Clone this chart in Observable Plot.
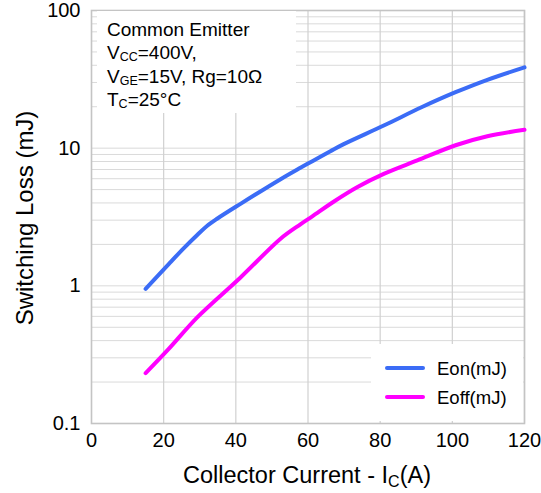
<!DOCTYPE html>
<html><head><meta charset="utf-8">
<script src="https://cdn.jsdelivr.net/npm/d3@7"></script>
<script src="https://cdn.jsdelivr.net/npm/@observablehq/plot@0.6"></script>
<style>
body{margin:0;background:#fff;}
svg{font-family:"Liberation Sans",Arial,sans-serif;}
</style>
</head><body><div id="chart"></div>
<script>
const seriesNames = ["Eon(mJ)", "Eoff(mJ)"];
const seriesColors = ["#3b6cf6", "#ff00ff"];
const eonCurrent = [15, 21.4, 25.6, 29.3, 32, 34.8, 41.3, 52.4, 57.9, 61.2, 66.2, 69.9, 81, 91.6, 100.9, 109.7, 120];
const eonLoss    = [0.95, 1.44, 1.88, 2.34, 2.72, 3.07, 3.94, 5.95, 7.2, 8.05, 9.5, 10.7, 14.6, 19.9, 25.5, 31.4, 38.6];
const eoffCurrent = [15, 21.4, 29.3, 41.3, 52.4, 57.9, 61.2, 67.2, 73.6, 81, 90.3, 100.9, 109.7, 120];
const eoffLoss    = [0.232, 0.348, 0.59, 1.15, 2.2, 2.8, 3.2, 4.1, 5.2, 6.5, 8.14, 10.5, 12.2, 13.6];
const xTicks = [0, 20, 40, 60, 80, 100, 120];
const xGrid = [20, 40, 60, 80, 100, 120];
const yTicks = [0.1, 1, 10, 100];
const yTickLabels = ["0.1", "1", "10", "100"];
const yGrid = [0.1, 1, 10].flatMap(d => [1,2,3,4,5,6,7,8,9].map(k => +(k * d).toPrecision(3)));
const xTitle = [["Collector Current - I", false], ["C", true], ["(A)", false]];
const yTitle = "Switching Loss (mJ)";
const annotationLines = [
  [["Common Emitter", false]],
  [["V", false], ["CC", true], ["=400V,", false]],
  [["V", false], ["GE", true], ["=15V, Rg=10Ω", false]],
  [["T", false], ["C", true], ["=25°C", false]]
];

const rows = [
  ...eonCurrent.map((c, i) => ({current: c, loss: eonLoss[i], series: seriesNames[0]})),
  ...eoffCurrent.map((c, i) => ({current: c, loss: eoffLoss[i], series: seriesNames[1]}))
];

const plot = Plot.plot({
  width: 541, height: 493,
  marginLeft: 91, marginRight: 17, marginTop: 10, marginBottom: 70,
  style: {fontFamily: '"Liberation Sans", Arial, sans-serif', color: "#000", background: "#fff"},
  x: {domain: [0, 120]},
  y: {type: "log", domain: [0.1, 100]},
  color: {domain: seriesNames, range: seriesColors},
  marks: [
    Plot.gridY(yGrid, {stroke: "#dadada", strokeOpacity: 1, strokeWidth: 1}),
    Plot.gridX(xGrid, {stroke: "#d0d0d0", strokeOpacity: 1, strokeWidth: 1.2}),
    Plot.frame({stroke: "#c4c4c4", strokeWidth: 1.6}),
    Plot.axisX(xTicks, {tickSize: 0, tickPadding: 9, fontSize: 20, label: null}),
    Plot.axisY(yTicks, {tickSize: 0, tickPadding: 11, fontSize: 20, label: null,
      tickFormat: d => yTickLabels[yTicks.indexOf(d)]}),
    Plot.line(rows, {x: "current", y: "loss", z: "series", stroke: "series",
      strokeWidth: 4, strokeLinecap: "round", curve: "catmull-rom"})
  ]
});
document.getElementById("chart").appendChild(plot);

const svg = d3.select(plot);
const color = plot.scale("color");

// annotation box
const ann = svg.append("g").attr("text-anchor", "start");
ann.append("rect").attr("x", 97).attr("y", 11).attr("width", 199).attr("height", 102).attr("fill", "#fff");
annotationLines.forEach((parts, i) => {
  const t = ann.append("text").attr("x", 107).attr("y", 36 + i * 23.4).attr("font-size", 19)
    .attr("fill", "#000").attr("text-anchor", "start");
  let shifted = false;
  parts.forEach(([s, sub]) => {
    const ts = t.append("tspan").text(s);
    if (sub) { ts.attr("font-size", 12.5).attr("dy", 2); shifted = true; }
    else if (shifted) { ts.attr("dy", -2); shifted = false; }
  });
});

// legend box
const leg = svg.append("g").attr("text-anchor", "start");
leg.append("rect").attr("x", 371).attr("y", 344).attr("width", 152).attr("height", 77).attr("fill", "#fff");
seriesNames.forEach((name, i) => {
  const y = 368 + i * 29;
  leg.append("line").attr("x1", 387).attr("x2", 423).attr("y1", y).attr("y2", y)
    .attr("stroke", color.apply(name)).attr("stroke-width", 4).attr("stroke-linecap", "round");
  leg.append("text").attr("x", 437).attr("y", y + 7).attr("font-size", 18.5).attr("fill", "#000")
    .attr("text-anchor", "start").text(name);
});

// axis titles
const xt = svg.append("text").attr("x", 307).attr("y", 483).attr("text-anchor", "middle")
  .attr("font-size", 23.5).attr("fill", "#000");
let sh = false;
xTitle.forEach(([s, sub]) => {
  const ts = xt.append("tspan").text(s);
  if (sub) { ts.attr("font-size", 16).attr("dy", 4); sh = true; }
  else if (sh) { ts.attr("dy", -4); sh = false; }
});
svg.append("text").attr("transform", "translate(33,218) rotate(-90)").attr("text-anchor", "middle")
  .attr("font-size", 24).attr("fill", "#000").text(yTitle);
</script>
</body></html>
